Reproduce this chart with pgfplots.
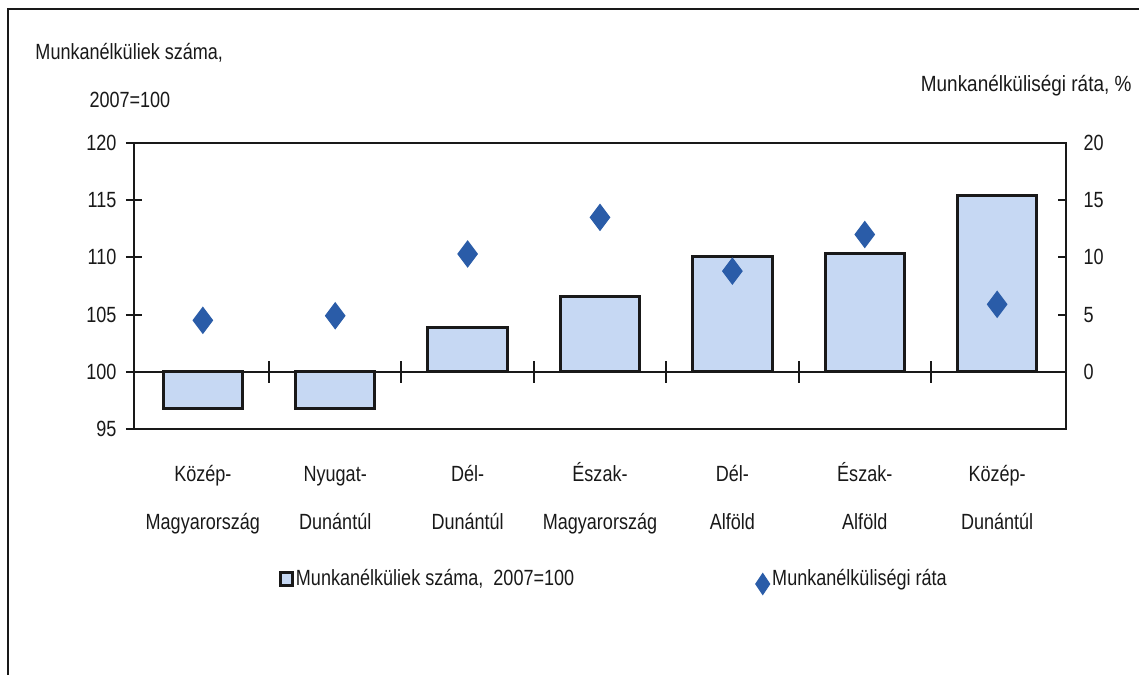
\documentclass[border=0pt]{standalone}
\usepackage{fontspec}
\setmainfont[FakeStretch=0.82]{Liberation Sans}
\usepackage{pgfplots}
\usepackage{pgfplotstable}
\pgfplotsset{compat=1.18}
\definecolor{barblue}{RGB}{198,216,243}
\definecolor{dblue}{RGB}{42,92,168}
\definecolor{ink}{RGB}{25,25,25}
\newcommand{\fs}{\fontsize{8.8pt}{10.6pt}\selectfont}
\newcommand{\fl}{\rule{0pt}{9pt}}

\pgfplotstableread{
x v r
0 96.8 4.5
1 96.8 4.9
2 103.9 10.3
3 106.6 13.5
4 110.1 8.8
5 110.3 12.0
6 115.4 5.9
}\datatab

\begin{document}
\begin{tikzpicture}
\useasboundingbox (0pt,0pt) rectangle (455.6pt,270pt);
\draw[ink, line width=0.8pt] (3.2pt,0pt) -- (3.2pt,266.4pt) -- (455.6pt,266.4pt);
\node[anchor=west, inner sep=0pt, font=\fs, text=ink] at (14pt,248.8pt) {Munkanélküliek száma,};
\node[anchor=west, inner sep=0pt, font=\fs, text=ink] at (35.6pt,230pt) {2007=100};
\node[anchor=east, inner sep=0pt, font=\fs, text=ink, xscale=1.05] at (452.8pt,235.6pt) {Munkanélküliségi ráta, \%};

% left axis with bars and category labels
\begin{axis}[
  at={(53.6pt,98.4pt)}, anchor=south west,
  width=372.8pt, height=114.4pt, scale only axis,
  xmin=-0.52, xmax=6.52, ymin=-5, ymax=20,
  axis line style={ink, line width=0.8pt},
  xtick={0,...,6},
  xticklabels={{\fl Közép-\\Magyarország},{\fl Nyugat-\\Dunántúl},{\fl Dél-\\Dunántúl},{\fl Észak-\\Magyarország},{\fl Dél-\\Alföld},{\fl Észak-\\Alföld},{\fl Közép-\\Dunántúl}},
  xtick style={draw=none},
  xticklabel style={font=\fontsize{8.8pt}{19.2pt}\selectfont, align=center, text=ink, anchor=north, inner sep=0pt, yshift=-8.6pt},
  ytick={-5,0,5,10,15,20}, yticklabels={95,100,105,110,115,120},
  ytick pos=left,
  ytick style={ink, line width=0.8pt},
  tick align=center, major tick length=6.4pt,
  yticklabel style={font=\fs, text=ink, anchor=east, inner sep=0pt, xshift=-3.6pt},
]
\addplot[ybar, bar width=0.6, bar shift=0pt, fill=barblue, draw=ink, line width=1.2pt]
  table[x=x, y expr=\thisrow{v}-100] {\datatab};
\end{axis}

% horizontal line at 100 with ticks between categories
\begin{axis}[
  at={(53.6pt,98.4pt)}, anchor=south west,
  width=372.8pt, height=114.4pt, scale only axis,
  xmin=-0.52, xmax=6.52, ymin=-5, ymax=20,
  axis x line*=middle, axis y line=none,
  axis line style={ink, line width=0.8pt},
  xtick={0.5,1.5,...,5.5}, xticklabels={},
  tick align=center, major tick length=8.8pt,
  xtick style={ink, line width=0.8pt},
]
\end{axis}

% right axis with diamonds and legend
\begin{axis}[
  at={(53.6pt,98.4pt)}, anchor=south west,
  width=372.8pt, height=114.4pt, scale only axis,
  xmin=-0.52, xmax=6.52, ymin=-5, ymax=20,
  axis y line*=right, axis x line=none,
  axis line style={ink, line width=0.8pt},
  ytick={0,5,10,15,20},
  tick align=inside, major tick length=3.2pt,
  ytick style={ink, line width=0.8pt},
  yticklabel style={font=\fs, text=ink, anchor=west, inner sep=0pt, xshift=6.8pt},
  /pgf/number format/assume math mode=true,
  legend columns=2,
  legend style={at={(axis description cs:0.155,-0.535)}, anchor=west, draw=none, fill=none,
    inner sep=0pt, font=\fs, text=ink, nodes={inner xsep=0.8pt, inner ysep=0pt},
    /tikz/every even column/.append style={column sep=71.6pt}},
]
\addlegendimage{legend image code/.code={\draw[fill=barblue, draw=ink, line width=1.2pt] (0pt,-2.6pt) rectangle (4.8pt,2.6pt);}}
\addlegendentry{Munkanélküliek száma,\ \ 2007=100}
\addplot[only marks, mark=diamond*, mark size=5.2pt, mark options={fill=dblue, draw=dblue},
  legend image code/.code={\fill[dblue] (2.8pt,2.2pt) -- (5.6pt,-2pt) -- (2.8pt,-6.2pt) -- (0pt,-2pt) -- cycle;}]
  table[x=x, y=r] {\datatab};
\addlegendentry{Munkanélküliségi ráta}
\end{axis}
\end{tikzpicture}
\end{document}
